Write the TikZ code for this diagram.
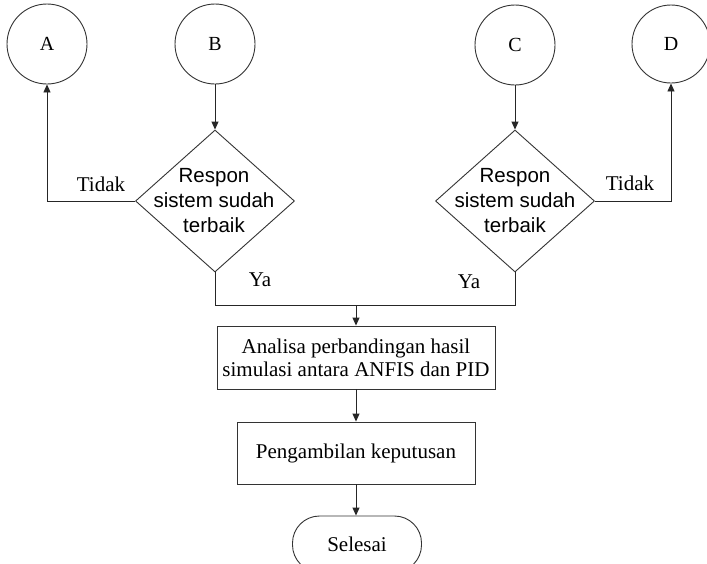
\documentclass[tikz,border=0pt]{standalone}
\usepackage{fontspec}
\setmainfont{Liberation Serif}
\newfontfamily\arialfont{Liberation Sans}
\usetikzlibrary{shapes.geometric, arrows.meta}
\begin{document}
\begin{tikzpicture}[x=1pt,y=-1pt,
  conn/.style={draw=black!85, line width=0.9pt},
  arr/.style={conn, -{Triangle[length=8pt,width=7pt]}},
  connector/.style={circle, draw=black!80, line width=0.9pt, minimum size=80pt, inner sep=0pt, font=\fontsize{20}{22}\selectfont},
  decision/.style={diamond, draw=black!80, line width=0.9pt, minimum width=159pt, minimum height=142pt, inner sep=0pt},
  dtext/.style={align=center, inner sep=0pt, font=\arialfont\fontsize{20.5}{25}\selectfont},
  process/.style={rectangle, draw=black!80, line width=0.9pt, align=center, inner sep=0pt, font=\fontsize{21}{23}\selectfont},
  terminal/.style={rectangle, rounded corners=27pt, draw=black!80, line width=0.9pt, minimum width=129pt, minimum height=56pt, inner sep=0pt, font=\fontsize{21}{23}\selectfont},
  lbl/.style={inner sep=0pt, font=\fontsize{21}{23}\selectfont}
]
\useasboundingbox (0,0) rectangle (707,563);
\fill[white] (0,0) rectangle (707,563);

% off-page connectors
\node[connector] (A) at (47,44) {A};
\node[connector] (B) at (215,44) {B};
\node[connector] (C) at (515,45) {C};
\node[connector, minimum size=78pt] (D) at (671,44) {D};

% decisions
\node[decision] (d1) at (215,201) {};
\node[dtext] (d1t) at (214,201) {Respon\\sistem sudah\\terbaik};
\node[decision] (d2) at (515,201) {};
\node[dtext] (d2t) at (515,201) {Respon\\sistem sudah\\terbaik};

% processes
\node[process, minimum width=278pt, minimum height=63pt] (p1) at (356,357.5) {Analisa perbandingan hasil\\simulasi antara ANFIS dan PID};
\node[process, minimum width=238pt, minimum height=62pt] (p2) at (356,453) {Pengambilan keputusan};
\node[terminal] (end) at (357,544) {Selesai};

% labels
\node[lbl] (t1) at (101,184) {Tidak};
\node[lbl] (t2) at (630,183) {Tidak};
\node[lbl] (y1) at (260,280) {Ya};
\node[lbl] (y2) at (469,282) {Ya};

\coordinate (j) at (356,305);

% connectors
\draw[arr] (B.south) -- (d1.north);
\draw[arr] (C.south) -- (d2.north);
\draw[arr] (d1.west) -| (A.south);
\draw[arr] (d2.east) -| (D.south);
\draw[conn] (d1.south) -- (d1.south |- j) -- (d2.south |- j) -- (d2.south);
\draw[arr] (j) -- (p1.north);
\draw[arr] (p1.south) -- (p2.north);
\draw[arr] (p2.south) -- (p2.south |- end.north);
\end{tikzpicture}
\end{document}
